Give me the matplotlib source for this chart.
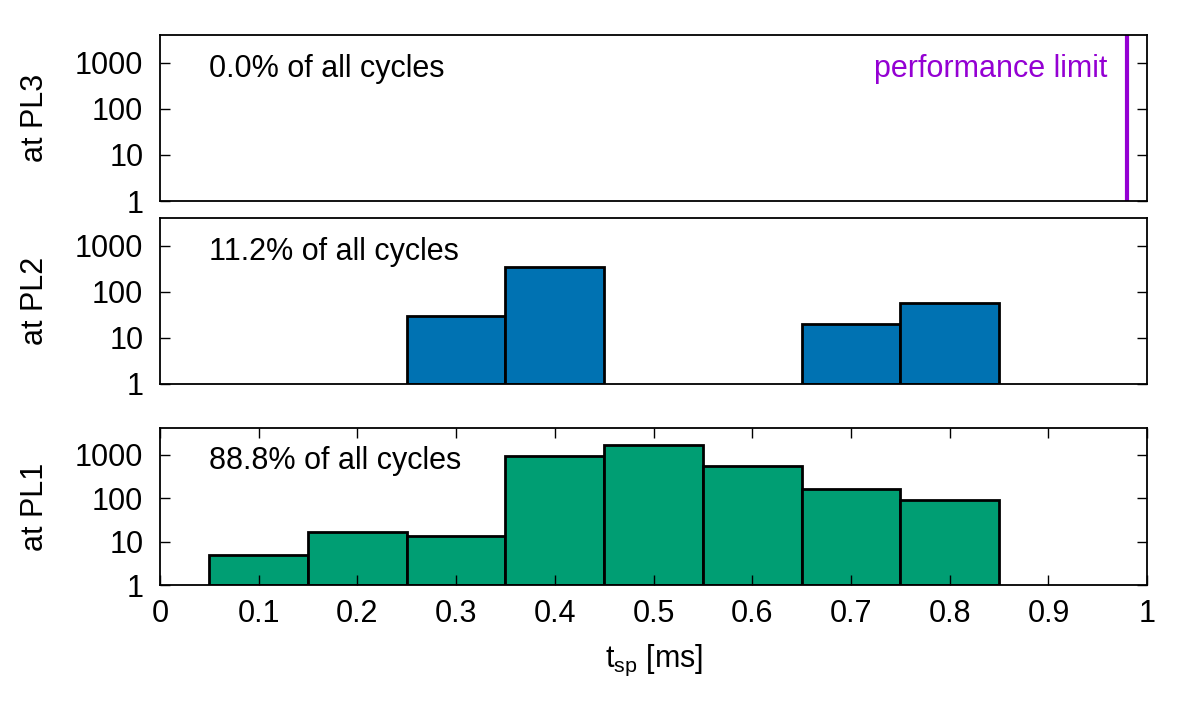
import matplotlib
matplotlib.use("Agg")
import matplotlib.pyplot as plt
import numpy as np
from matplotlib.ticker import LogLocator, FixedLocator, NullFormatter

plt.rcParams["font.family"] = ["Liberation Sans", "DejaVu Sans"]

# histogram bins (left edges) in ms, bin width 0.1
bin_left = [0.05, 0.15, 0.25, 0.35, 0.45, 0.55, 0.65, 0.75]
counts_pl1 = [5, 16.5, 13.5, 950, 1700, 560, 165, 90]
counts_pl2 = [0, 0, 30, 340, 0, 0, 20, 57]
counts_pl3 = [0, 0, 0, 0, 0, 0, 0, 0]

shares = ["0.0% of all cycles", "11.2% of all cycles", "88.8% of all cycles"]
panel_labels = ["at PL3", "at PL2", "at PL1"]
perf_limit = 0.98
bin_width = 0.1

colors = [None, "#0072B2", "#009E73"]
series = [counts_pl3, counts_pl2, counts_pl1]

FS = 22

fig = plt.figure(figsize=(12, 7.09), dpi=100)
rects = [
    [0.1333, 0.7165, 0.8227, 0.2341],
    [0.1333, 0.4588, 0.8227, 0.2333],
    [0.1333, 0.1745, 0.8227, 0.2214],
]

for i, rect in enumerate(rects):
    ax = fig.add_axes(rect)
    vals = np.array(series[i], dtype=float)
    mask = vals > 0
    if mask.any():
        ax.bar(np.array(bin_left)[mask], vals[mask] - 1, width=bin_width, bottom=1,
               align="edge", color=colors[i], edgecolor="black", linewidth=2)
    ax.set_yscale("log")
    ax.set_ylim(1, 4000)
    ax.set_xlim(0, 1)
    ax.yaxis.set_major_locator(FixedLocator([1, 10, 100, 1000]))
    ax.yaxis.set_minor_locator(LogLocator(base=10, subs=np.arange(2, 10)))
    ax.yaxis.set_minor_formatter(NullFormatter())
    ax.set_yticklabels(["1", "10", "100", "1000"])
    ax.tick_params(axis="y", which="both", direction="in", left=True, right=True,
                   labelsize=FS, pad=12)
    ax.tick_params(axis="y", which="major", length=7, width=1)
    ax.tick_params(axis="y", which="minor", length=4, width=0.8)
    for s in ax.spines.values():
        s.set_linewidth(1.3)
    ax.set_ylabel(panel_labels[i], fontsize=FS, labelpad=18)
    ax.text(0.05, 720, shares[i], fontsize=FS, va="center", ha="left")
    if i == 2:
        ax.set_xticks(np.arange(0, 1.01, 0.1))
        ax.set_xticklabels(["0", "0.1", "0.2", "0.3", "0.4", "0.5", "0.6",
                            "0.7", "0.8", "0.9", "1"])
        ax.tick_params(axis="x", direction="in", top=True, bottom=True,
                       labelsize=FS, length=7, width=1, pad=10)
        ax.set_xlabel("t$_{\\mathregular{sp}}$ [ms]", fontsize=FS, labelpad=10)
    else:
        ax.set_xticks([])
    if i == 0:
        ax.axvline(perf_limit, color="#9400D3", linewidth=3)
        ax.text(perf_limit - 0.02, 720, "performance limit", color="#9400D3",
                fontsize=FS, va="center", ha="right")

fig.savefig("out.png", dpi=100)
